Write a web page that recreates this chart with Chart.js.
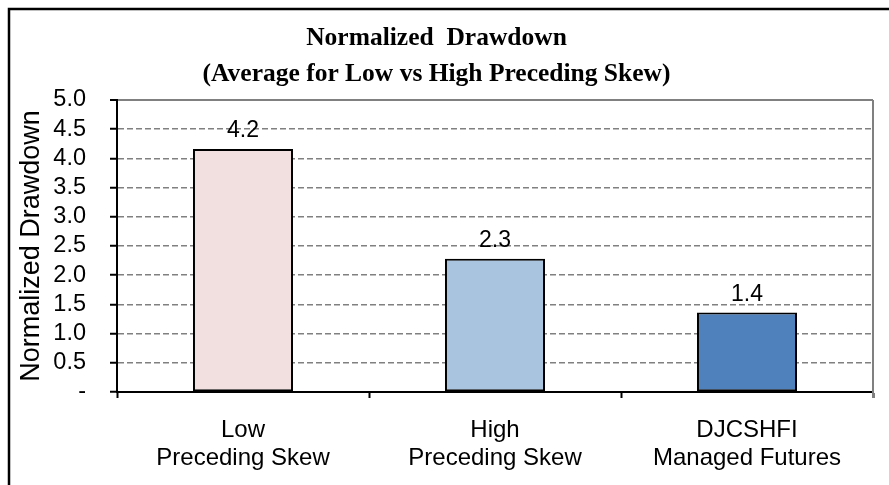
<!DOCTYPE html>
<html>
<head>
<meta charset="utf-8">
<script src="https://cdn.jsdelivr.net/npm/chart.js@4"></script>
<style>
  html, body { margin: 0; padding: 0; background: #fff; }
  #wrap { width: 889px; height: 485px; position: relative; }
</style>
</head>
<body>
<div id="wrap"><canvas id="drawdownChart"></canvas></div>
<script>
const categories = [['Low', 'Preceding Skew'], ['High', 'Preceding Skew'], ['DJCSHFI', 'Managed Futures']];
const drawdown = [4.16, 2.28, 1.36];
const barColors = ['#F2DFDF', '#A9C4DE', '#4F81BD'];
const yTickLabels = ['-', '0.5', '1.0', '1.5', '2.0', '2.5', '3.0', '3.5', '4.0', '4.5', '5.0'];

// outer frame, grey plot border and value labels
const extras = {
    id: 'extras',
    beforeDraw(chart) {
        const c = chart.ctx;
        c.save();
        c.fillStyle = '#fff';
        c.fillRect(0, 0, chart.width, chart.height);
        c.strokeStyle = '#000';
        c.lineWidth = 2.5;
        c.beginPath();
        c.moveTo(9, chart.height);
        c.lineTo(9, 9);
        c.lineTo(chart.width, 9);
        c.stroke();
        c.restore();
    },
    afterDatasetsDraw(chart) {
        const c = chart.ctx;
        const a = chart.chartArea;
        c.save();
        c.strokeStyle = '#808080';
        c.lineWidth = 2;
        c.beginPath();
        c.moveTo(a.right, a.top);
        c.lineTo(a.right, a.bottom + 6);
        c.stroke();
        c.fillStyle = '#000';
        c.font = '23px "Liberation Sans", Arial, sans-serif';
        c.textAlign = 'center';
        c.textBaseline = 'alphabetic';
        chart.getDatasetMeta(0).data.forEach((bar, i) => {
            c.fillText(drawdown[i].toFixed(1), bar.x, bar.y - 12);
        });
        c.restore();
    }
};

const ctx = document.getElementById('drawdownChart').getContext('2d');
const chart = new Chart(ctx, {
    type: 'bar',
    data: {
        labels: categories,
        datasets: [{
            data: drawdown,
            backgroundColor: barColors,
            borderColor: '#000',
            borderWidth: 2,
            borderSkipped: false,
            categoryPercentage: 1,
            barPercentage: 0.397
        }]
    },
    options: {
        responsive: true,
        maintainAspectRatio: false,
        animation: false,
        layout: {
            padding: { left: 0, right: 16, top: 0, bottom: 0 }
        },
        plugins: {
            legend: { display: false },
            tooltip: { enabled: false },
            title: {
                display: true,
                text: ['Normalized  Drawdown', '(Average for Low vs High Preceding Skew)'],
                color: '#000',
                font: { family: '"Liberation Serif", "Times New Roman", serif', size: 25.5, weight: 'bold', lineHeight: 1.4 },
                padding: { top: 21, bottom: 7.6 }
            }
        },
        scales: {
            y: {
                min: 0,
                max: 5,
                ticks: {
                    stepSize: 0.5,
                    autoSkip: false,
                    color: '#000',
                    padding: 24,
                    font: { family: '"Liberation Sans", Arial, sans-serif', size: 23.5 },
                    callback: (v, i) => yTickLabels[i]
                },
                grid: {
                    color: (c) => c.tick && c.tick.value === 0 ? 'rgba(0,0,0,0)' : '#808080',
                    lineWidth: (c) => c.tick && c.tick.value === 5 ? 2 : 1.5,
                    tickColor: '#000',
                    tickLength: 7,
                    tickWidth: 2
                },
                border: {
                    color: '#000',
                    width: 2,
                    dash: (c) => c.tick && c.tick.value === 5 ? [] : [6, 3]
                },
                title: {
                    display: true,
                    text: 'Normalized Drawdown',
                    color: '#000',
                    font: { family: '"Liberation Sans", Arial, sans-serif', size: 27 },
                    padding: { top: 15, bottom: 0 }
                },
                afterFit: (s) => { s.width = 117; }
            },
            x: {
                ticks: {
                    color: '#000',
                    padding: 18,
                    font: { family: '"Liberation Sans", Arial, sans-serif', size: 24, lineHeight: 1.18 }
                },
                grid: {
                    drawOnChartArea: false,
                    color: '#000',
                    tickColor: '#000',
                    tickLength: 6,
                    tickWidth: 2
                },
                border: { color: '#000', width: 2 },
                afterFit: (s) => { s.height = 93; }
            }
        }
    },
    plugins: [extras]
});
</script>
</body>
</html>
